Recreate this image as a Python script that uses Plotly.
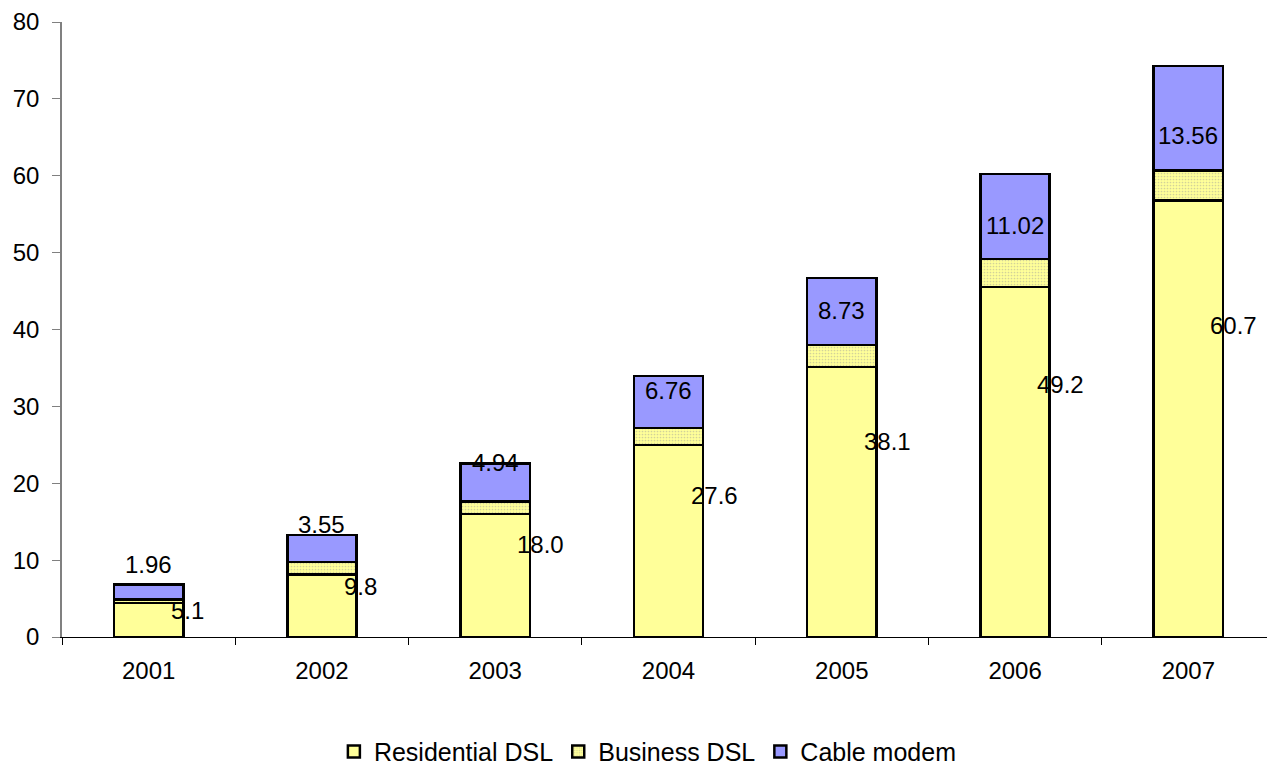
import plotly.graph_objects as go

years = ["2001", "2002", "2003", "2004", "2005", "2006", "2007"]
residential_dsl = [4.4, 8.15, 16.0, 25.0, 35.1, 45.5, 56.8]
business_dsl = [0.5, 1.6, 1.6, 2.2, 2.9, 3.7, 3.9]
cable_modem = [1.96, 3.55, 4.94, 6.76, 8.73, 11.02, 13.56]
dsl_total_labels = [5.1, 9.8, 18.0, 27.6, 38.1, 49.2, 60.7]
y_ticks = [0, 10, 20, 30, 40, 50, 60, 70, 80]

FONT = "Liberation Sans, Arial, sans-serif"
FS = 24
YELLOW = "#FFFF99"
BLUE = "#9999FF"

fig = go.Figure()
fig.add_trace(go.Bar(
    name="Residential DSL", x=years, y=residential_dsl,
    marker=dict(color=YELLOW, line=dict(color="black", width=2.5)),
))
fig.add_trace(go.Bar(
    name="Business DSL", x=years, y=business_dsl,
    marker=dict(color=YELLOW, line=dict(color="black", width=2.5),
                pattern=dict(shape=".", fgcolor="#d2d29a", bgcolor=YELLOW,
                             size=3, solidity=0.25, fillmode="replace")),
))
fig.add_trace(go.Bar(
    name="Cable modem", x=years, y=cable_modem,
    marker=dict(color=BLUE, line=dict(color="black", width=2.5)),
))

annotations = []
for i, (dsl, cab) in enumerate(zip(dsl_total_labels, cable_modem)):
    annotations.append(dict(
        x=i, y=dsl * 2 / 3, xref="x", yref="y", text=f"{dsl:.1f}",
        showarrow=False, xanchor="left", yanchor="middle", xshift=20,
        font=dict(family=FONT, size=FS, color="black"),
    ))
    annotations.append(dict(
        x=i, y=0.83 * (dsl + cab) + 3.6, xref="x", yref="y", text=f"{cab:.2f}",
        showarrow=False, xanchor="center", yanchor="middle",
        font=dict(family=FONT, size=FS, color="black"),
    ))

fig.update_layout(
    barmode="stack",
    bargap=0.6,
    width=1267, height=759,
    margin=dict(l=54, r=0, t=14, b=130, autoexpand=False),
    plot_bgcolor="white", paper_bgcolor="white",
    font=dict(family=FONT, size=FS, color="black"),
    showlegend=True,
    legend=dict(orientation="h", x=0.483, xanchor="center",
                yref="container", y=0.02, yanchor="middle",
                font=dict(family=FONT, size=25, color="black"),
                traceorder="normal"),
    annotations=annotations,
)
fig.update_xaxes(
    type="category", range=[-0.5, 6.5], showline=True, linecolor="black", linewidth=1,
    ticks="outside", tickson="boundaries", ticklen=7, tickcolor="black",
    showgrid=False, ticklabelstandoff=12, tickangle=0,
    tickfont=dict(family=FONT, size=FS, color="black"),
)
fig.update_yaxes(
    range=[0, 80], tickvals=y_ticks, showline=True, linecolor="#808080", linewidth=1.5,
    ticks="outside", ticklen=8, tickcolor="#808080", showgrid=False, zeroline=False,
    ticklabelstandoff=8, tickfont=dict(family=FONT, size=FS, color="black"),
)

fig.write_html("out.html")
